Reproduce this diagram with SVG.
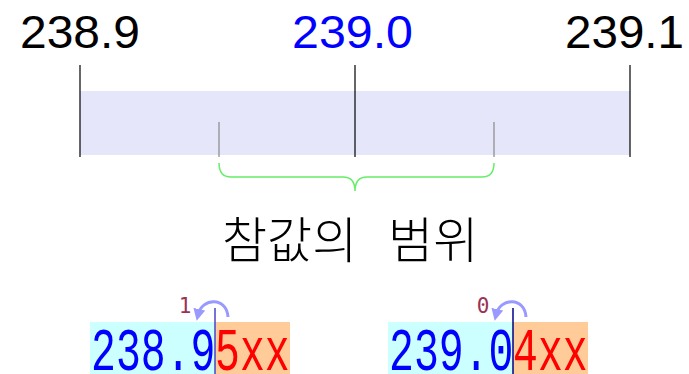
<svg xmlns="http://www.w3.org/2000/svg" width="689" height="374" viewBox="0 0 689 374">
<defs>
<style>
.big{font-family:"Liberation Sans",Arial,sans-serif;font-size:46px}
.mono{font-family:"Liberation Mono","DejaVu Sans Mono",monospace;font-size:41.5px}
.tick{stroke:#000;stroke-width:1.2}
.sub{stroke:#888;stroke-width:1.2}
.arc{fill:none;stroke:#9999ff;stroke-width:3}
.cnt{font-family:"DejaVu Sans Mono","Liberation Mono",monospace;font-size:21px;fill:#993355}
</style>
<marker id="ah" viewBox="0 0 10 10" refX="5" refY="5" markerWidth="4" markerHeight="4" orient="auto-start-reverse" markerUnits="strokeWidth">
<path d="M0,0 L10,5 L0,10 z" fill="#9999ff"/>
</marker>
</defs>
<rect width="689" height="374" fill="#fff"/>
<g id="scale">
<rect x="80" y="91" width="550" height="64" fill="#e6e6fa"/>
<line class="tick" x1="80" y1="65" x2="80" y2="157"/>
<line class="tick" x1="355" y1="65" x2="355" y2="157"/>
<line class="tick" x1="630" y1="65" x2="630" y2="157"/>
<line class="sub" x1="219" y1="122" x2="219" y2="157"/>
<line class="sub" x1="494" y1="122" x2="494" y2="157"/>
<text class="big" x="20" y="48" textLength="120" lengthAdjust="spacingAndGlyphs" fill="#000">238.9</text>
<text class="big" x="292" y="48" textLength="121" lengthAdjust="spacingAndGlyphs" fill="#0000ff">239.0</text>
<text class="big" x="565" y="48" textLength="119" lengthAdjust="spacingAndGlyphs" fill="#000">239.1</text>
</g>
<g id="brace">
<path d="M219,163 Q219,177 231,177 L343,177 Q355,177 355,191 Q355,177 367,177 L482,177 Q494,177 494,163" fill="none" stroke="#66ee66" stroke-width="1.5"/>
<text x="222" y="258" font-family="'Noto Sans CJK KR',sans-serif" font-size="49" font-weight="300" word-spacing="20" fill="#000">참값의 범위</text>
</g>
<g id="round1">
<rect x="90" y="322" width="125" height="52" fill="#ccffff"/>
<rect x="215" y="322" width="75" height="52" fill="#ffcc99"/>
<g transform="translate(0,370) scale(1,1.45)">
<text class="mono" x="91" y="0" fill="#0000ff">238.9</text>
<text class="mono" x="215" y="0" fill="#ff0000">5xx</text>
</g>
<line x1="215" y1="308" x2="215" y2="374" stroke="#4444cc" stroke-width="1.5"/>
<path class="arc" d="M228,317 C227,297 202,297 198,315" marker-end="url(#ah)"/>
<text class="cnt" x="185" y="313" text-anchor="middle">1</text>
</g>
<g id="round2">
<rect x="388" y="322" width="125" height="52" fill="#ccffff"/>
<rect x="513" y="322" width="75" height="52" fill="#ffcc99"/>
<g transform="translate(0,370) scale(1,1.45)">
<text class="mono" x="389" y="0" fill="#0000ff">239.0</text>
<text class="mono" x="513" y="0" fill="#ff0000">4xx</text>
</g>
<line x1="513" y1="308" x2="513" y2="374" stroke="#000088" stroke-width="1.5"/>
<path class="arc" d="M526,317 C525,297 500,297 496,315" marker-end="url(#ah)"/>
<text class="cnt" x="483" y="313" text-anchor="middle">0</text>
</g>
</svg>
